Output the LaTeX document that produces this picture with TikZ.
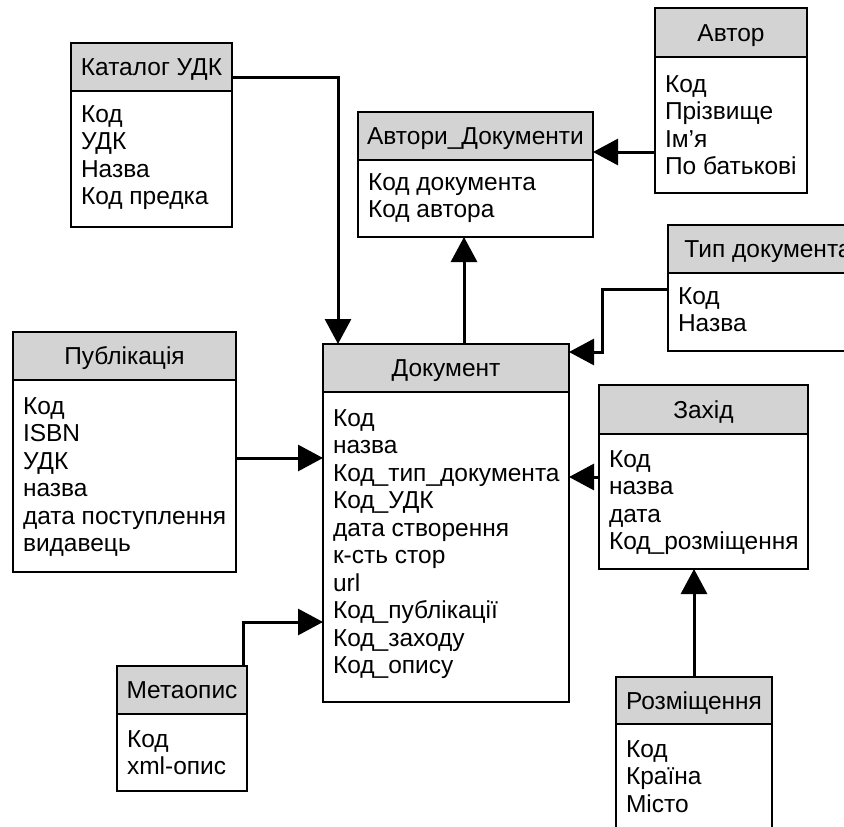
\documentclass[tikz,border=0pt]{standalone}
\usepackage{fontspec}
\setmainfont{Liberation Sans}
\usetikzlibrary{arrows.meta}

\definecolor{hdrgray}{RGB}{211,211,211}

% body of a table: width, height, top gap, field lines
\newcommand\fieldbox[4]{%
  \parbox[c][#2pt][t]{#1pt}{\vspace*{#3pt}\hspace*{10pt}%
    \begin{tabular}[t]{@{}l@{}}#4\end{tabular}}}

\tikzset{
  erfont/.style={font=\fontsize{24.5pt}{27.5pt}\selectfont},
  hdr/.style={erfont, draw, line width=1.5pt, fill=hdrgray, anchor=north west,
    inner sep=0pt, outer sep=0pt, text height=17.5pt, text depth=0pt},
  fields/.style={erfont, draw, line width=1.5pt, fill=white, anchor=north west,
    inner sep=0pt, outer sep=0pt},
  link/.style={line width=3pt, -{Triangle[length=25pt,width=26pt]}}
}

\begin{document}
\begin{tikzpicture}[x=1pt,y=-1pt]
\useasboundingbox (0,0) rectangle (844,827);
\clip (0,0) rectangle (844,827);
\fill[white] (0,0) rectangle (844,827);

% Каталог УДК
\node[hdr, minimum width=161pt, minimum height=48pt] (catH) at (71,43) {Каталог УДК};
\node[fields] (catB) at (catH.south west)
  {\fieldbox{161}{136}{12}{Код\\УДК\\Назва\\Код предка}};

% Автор
\node[hdr, minimum width=152pt, minimum height=49pt] (autH) at (655,8) {Автор};
\node[fields] (autB) at (autH.south west)
  {\fieldbox{152}{136}{16}{Код\\Прізвище\\Ім’я\\По батькові}};

% Автори_Документи
\node[hdr, minimum width=235pt, minimum height=48pt] (adH) at (358,112) {Автори\_Документи};
\node[fields] (adB) at (adH.south west)
  {\fieldbox{235}{77}{11}{Код документа\\Код автора}};

% Тип документа
\node[hdr, minimum width=200pt, minimum height=48pt] (tipH) at (668,225) {Тип документа};
\node[fields] (tipB) at (tipH.south west)
  {\fieldbox{200}{78}{12}{Код\\Назва}};

% Публікація
\node[hdr, minimum width=223pt, minimum height=48pt] (pubH) at (13,332) {Публікація};
\node[fields] (pubB) at (pubH.south west)
  {\fieldbox{223}{192}{15}{Код\\ISBN\\УДК\\назва\\дата поступлення\\видавець}};

% Документ
\node[hdr, minimum width=246pt, minimum height=48pt] (docH) at (323,344) {Документ};
\node[fields] (docB) at (docH.south west)
  {\fieldbox{246}{310}{15}{Код\\назва\\Код\_тип\_документа\\Код\_УДК\\дата створення\\к-сть стор\\url\\Код\_публікації\\Код\_заходу\\Код\_опису}};

% Захід
\node[hdr, minimum width=209pt, minimum height=49pt] (zakH) at (599,385) {Захід};
\node[fields] (zakB) at (zakH.south west)
  {\fieldbox{209}{135}{14}{Код\\назва\\дата\\Код\_розміщення}};

% Метаопис
\node[hdr, minimum width=130pt, minimum height=48pt] (metH) at (117,666) {Метаопис};
\node[fields] (metB) at (metH.south west)
  {\fieldbox{130}{77}{14}{Код\\xml-опис}};

% Розміщення
\node[hdr, minimum width=156pt, minimum height=47pt] (rozH) at (616,677) {Розміщення};
\node[fields] (rozB) at (rozH.south west)
  {\fieldbox{156}{130}{14}{Код\\Країна\\Місто}};

% connectors
\draw[link] ([yshift=-10pt]catH.east) -| ([xshift=15pt]docH.north west);
\draw[link] ([xshift=141pt]docH.north west) -- ([xshift=141pt]docH.north west |- adB.south);
\draw[link] ([yshift=-27pt]autB.west) -- ([yshift=-27pt]autB.west -| adH.east);
\draw[link] ([yshift=-16pt]tipB.north west) -| ([xshift=33pt,yshift=-8pt]docH.north east)
  -- ([yshift=-8pt]docH.north east);
\draw[link] ([yshift=-43pt]zakB.north west) -- ([yshift=-43pt]zakB.north west -| docB.east);
\draw[link] (rozH.north) -- (rozH.north |- zakB.south);
\draw[link] ([yshift=-78pt]pubB.north east) -- ([yshift=-78pt]pubB.north east -| docB.west);
\draw[link] ([xshift=-4pt]metH.north east) |- ([yshift=-230pt]docB.north west);
\end{tikzpicture}
\end{document}
